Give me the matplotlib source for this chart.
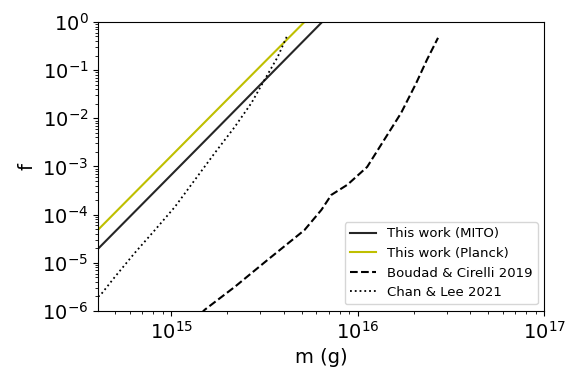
import numpy as np
import matplotlib
matplotlib.use("Agg")
import matplotlib.pyplot as plt

# values (log10 of m in g, log10 of f)
mito_logm = [14.607, 15.2, 15.809]
mito_logf = [-4.71, -2.39, 0.0]

planck_logm = [14.607, 15.2, 15.714]
planck_logf = [-4.315, -2.0, 0.0]

boudad_logm = [15.16, 15.179, 15.34, 15.516, 15.714, 15.805, 15.858, 15.944,
               16.05, 16.141, 16.232, 16.313, 16.37, 16.43]
boudad_logf = [-6.05, -5.975, -5.50, -4.94, -4.32, -3.90, -3.59, -3.38,
               -3.01, -2.45, -1.89, -1.27, -0.79, -0.33]

chan_logm = [14.607, 14.618, 14.698, 14.805, 14.912, 15.019, 15.126, 15.233,
             15.34, 15.43, 15.5, 15.57, 15.623]
chan_logf = [-5.70, -5.68, -5.29, -4.79, -4.32, -3.84, -3.28, -2.72,
             -2.18, -1.68, -1.20, -0.73, -0.27]

fig = plt.figure(figsize=(5.67, 3.72), dpi=100)
ax = fig.add_axes([0.173, 0.164, 0.787, 0.777])

ax.plot(10**np.array(mito_logm), 10**np.array(mito_logf), color='#262626', lw=1.5,
        label='This work (MITO)')
ax.plot(10**np.array(planck_logm), 10**np.array(planck_logf), color='#bfbf00', lw=1.5,
        label='This work (Planck)')
ax.plot(10**np.array(boudad_logm), 10**np.array(boudad_logf), color='k', ls='--', lw=1.5,
        label='Boudad & Cirelli 2019')
ax.plot(10**np.array(chan_logm), 10**np.array(chan_logf), color='k', ls=':', lw=1.3,
        label='Chan & Lee 2021')

ax.set_xscale('log')
ax.set_yscale('log')
ax.set_xlim(4.05e14, 1e17)
ax.set_ylim(1e-6, 1)
ax.set_xlabel('m (g)', fontsize=14)
ax.set_ylabel('f', fontsize=14)
ax.tick_params(axis='both', which='major', labelsize=14)
ax.legend(loc='lower right', fontsize=9.5)

fig.savefig('out.png', dpi=100)
